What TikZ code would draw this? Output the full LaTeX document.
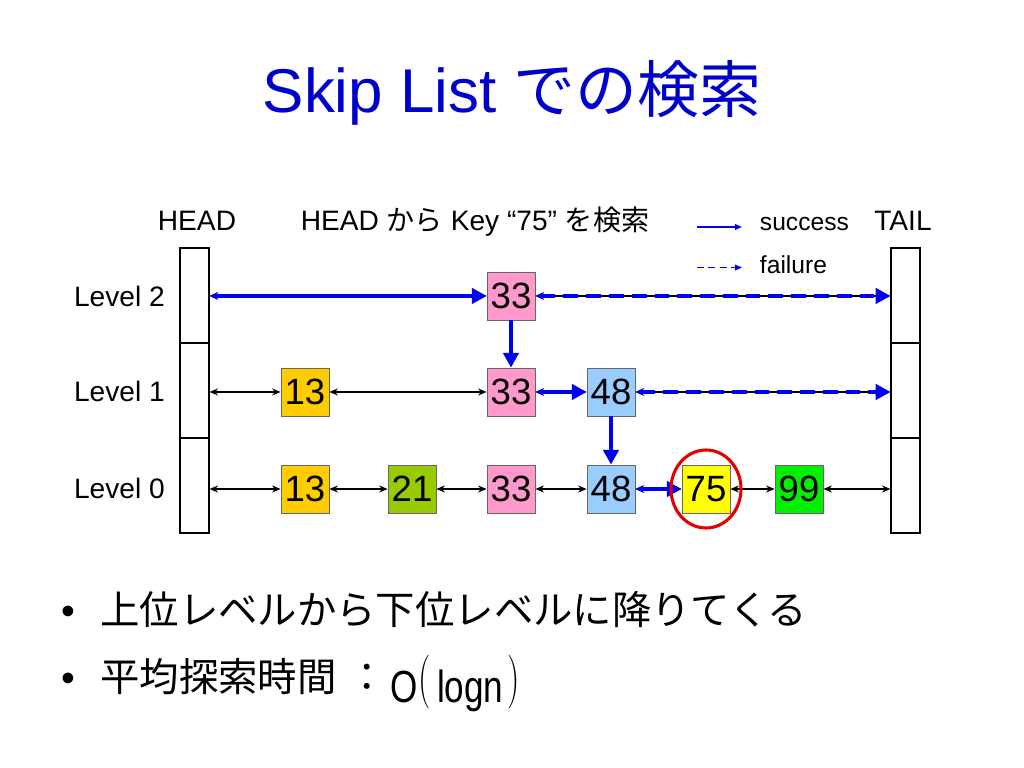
\documentclass[tikz,border=0pt]{standalone}
\usepackage{fontspec}
\setmainfont{Liberation Sans}
\newfontfamily\jpfont{Noto Sans CJK JP}
\usetikzlibrary{arrows.meta,positioning}
\definecolor{titleblue}{RGB}{0,0,204}
\definecolor{pathblue}{RGB}{0,0,238}
\definecolor{korange}{RGB}{255,204,0}
\definecolor{kolive}{RGB}{153,204,0}
\definecolor{kpink}{RGB}{255,153,204}
\definecolor{kblue}{RGB}{153,204,255}
\definecolor{kyellow}{RGB}{255,255,0}
\definecolor{kgreen}{RGB}{0,240,0}
\newcommand{\tallparen}[1]{\raisebox{4.6pt}{\scalebox{1}[1.54]{$#1$}}}
\newcommand{\narrow}[1]{\scalebox{0.78}[1]{#1}}
\tikzset{
  cell/.style={draw,line width=0.8pt,minimum width=0.725cm,minimum height=2.375cm,inner sep=0pt},
  keybox/.style={draw=black!60,line width=0.6pt,minimum size=1.2cm,inner sep=0pt,font=\fontsize{26}{30}\selectfont},
  lbl/.style={font=\fontsize{20}{24}\selectfont},
  legendtxt/.style={font=\fontsize{17.5}{21}\selectfont,anchor=base west},
  link/.style={black,line width=0.9pt,{Stealth[length=6pt,width=5pt]}-{Stealth[length=6pt,width=5pt]}},
  hit/.style={pathblue,line width=2.3pt,{Stealth[length=6pt,width=5.5pt]}-{Triangle[length=10.5pt,width=11pt]}},
  miss/.style={hit,dash pattern=on 10.5pt off 5.7pt},
  drop/.style={pathblue,line width=2.3pt,-{Triangle[length=10.5pt,width=11pt]}},
  keyline/.style={pathblue,line width=1pt,-{Triangle[length=5pt,width=4pt]}},
}
\begin{document}
\begin{tikzpicture}[x=0.025cm,y=-0.025cm,node distance=2.425cm]
\useasboundingbox[fill=white] (0,0) rectangle (1024,768);
% title
\node(TTL)[anchor=base,text=titleblue,font=\fontsize{44}{52}\selectfont] at (512,113){Skip List \jpfont での検索};
% head and tail columns
\node(H0)[cell] at (194.5,485.5){};
\node(H1)[cell,node distance=2.375cm,above of=H0]{};
\node(H2)[cell,node distance=2.375cm,above of=H1]{};
\node(T0)[cell] at (905.5,485.5){};
\node(T1)[cell,node distance=2.375cm,above of=T0]{};
\node(T2)[cell,node distance=2.375cm,above of=T1]{};
\node(HL)[lbl,anchor=base] at (197,230){HEAD};
\node(TL)[lbl,anchor=base] at (903,230){TAIL};
\node(QL)[lbl,anchor=base] at (475,230){HEAD {\jpfont から} Key “75” {\jpfont を検索}};
\node(L2)[lbl,anchor=base east,inner sep=0pt] at (165,306){Level 2};
\node(L1)[lbl,anchor=base east,inner sep=0pt] at (165,401){Level 1};
\node(L0)[lbl,anchor=base east,inner sep=0pt] at (165,498){Level 0};
% keys
\node(N0a)[keybox,fill=korange] at (305,489){13};
\node(N0b)[keybox,fill=kolive] at (412,489){21};
\node(N0c)[keybox,fill=kpink] at (511,489){33};
\node(N0d)[keybox,fill=kblue] at (611,489){48};
\node(N0e)[keybox,fill=kyellow] at (706,489){75};
\node(N0f)[keybox,fill=kgreen] at (799,489){99};
\node(N1a)[keybox,fill=korange,above of=N0a]{13};
\node(N1b)[keybox,fill=kpink,above of=N0c]{33};
\node(N1c)[keybox,fill=kblue,above of=N0d]{48};
\node(N2)[keybox,fill=kpink,node distance=2.4cm,above of=N1b]{33};
% plain links
\draw[link] (H2.east |- N2.west) -- (N2.west);
\draw[link] (N2.east) -- (N2.east -| T2.west);
\draw[link] (H1.east |- N1a.west) -- (N1a.west);
\draw[link] (N1a.east) -- (N1b.west);
\draw[link] (N1b.east) -- (N1c.west);
\draw[link] (N1c.east) -- (N1c.east -| T1.west);
\draw[link] (H0.east |- N0a.west) -- (N0a.west);
\foreach \a/\b in {N0a/N0b,N0b/N0c,N0c/N0d,N0d/N0e,N0e/N0f}
  \draw[link] (\a.east) -- (\b.west);
\draw[link] (N0f.east) -- (N0f.east -| T0.west);
% search path
\draw[hit] (H2.east |- N2.west) -- (N2.west);
\draw[miss] (N2.east) -- (N2.east -| T2.west);
\draw[drop] (N2.south) -- (N1b.north);
\draw[hit] (N1b.east) -- (N1c.west);
\draw[miss] (N1c.east) -- (N1c.east -| T1.west);
\draw[drop] (N1c.south) -- (N0d.north);
\draw[hit] (N0d.east) -- (N0e.west);
\draw[red!90!black,line width=2.2pt] (N0e.center) ellipse [x radius=35,y radius=39];
% legend
\coordinate(S1) at (697,227);
\coordinate(S2) at (742,227);
\coordinate(F1) at (697,267.5);
\coordinate(F2) at (742,267.5);
\draw[keyline] (S1) -- (S2);
\draw[keyline,dash pattern=on 5pt off 3pt] (F1) -- (F2);
\node(SL)[legendtxt] at (755,230){success};
\node(FL)[legendtxt] at (755,273){failure};
% bullets
\node(B1)[anchor=base,font=\fontsize{28}{32}\selectfont] at (68,624){•};
\node(B2)[anchor=base,font=\fontsize{28}{32}\selectfont] at (68,691){•};
\node(T1x)[anchor=base west,inner sep=0pt,font=\fontsize{28}{32}\jpfont] at (100,624){上位レベルから下位レベルに降りてくる};
\node(T2x)[anchor=base west,inner sep=0pt,font=\fontsize{28}{32}\jpfont] at (100,691){平均探索時間\hspace{8pt}：};
\node(OL)[anchor=base west,inner sep=0pt,font=\fontsize{32}{36}\selectfont] at (390,702){\narrow{O}\hspace{1pt}\tallparen{(}\hspace{4pt}\narrow{logn}\hspace{3pt}\tallparen{)}};
\end{tikzpicture}
\end{document}
